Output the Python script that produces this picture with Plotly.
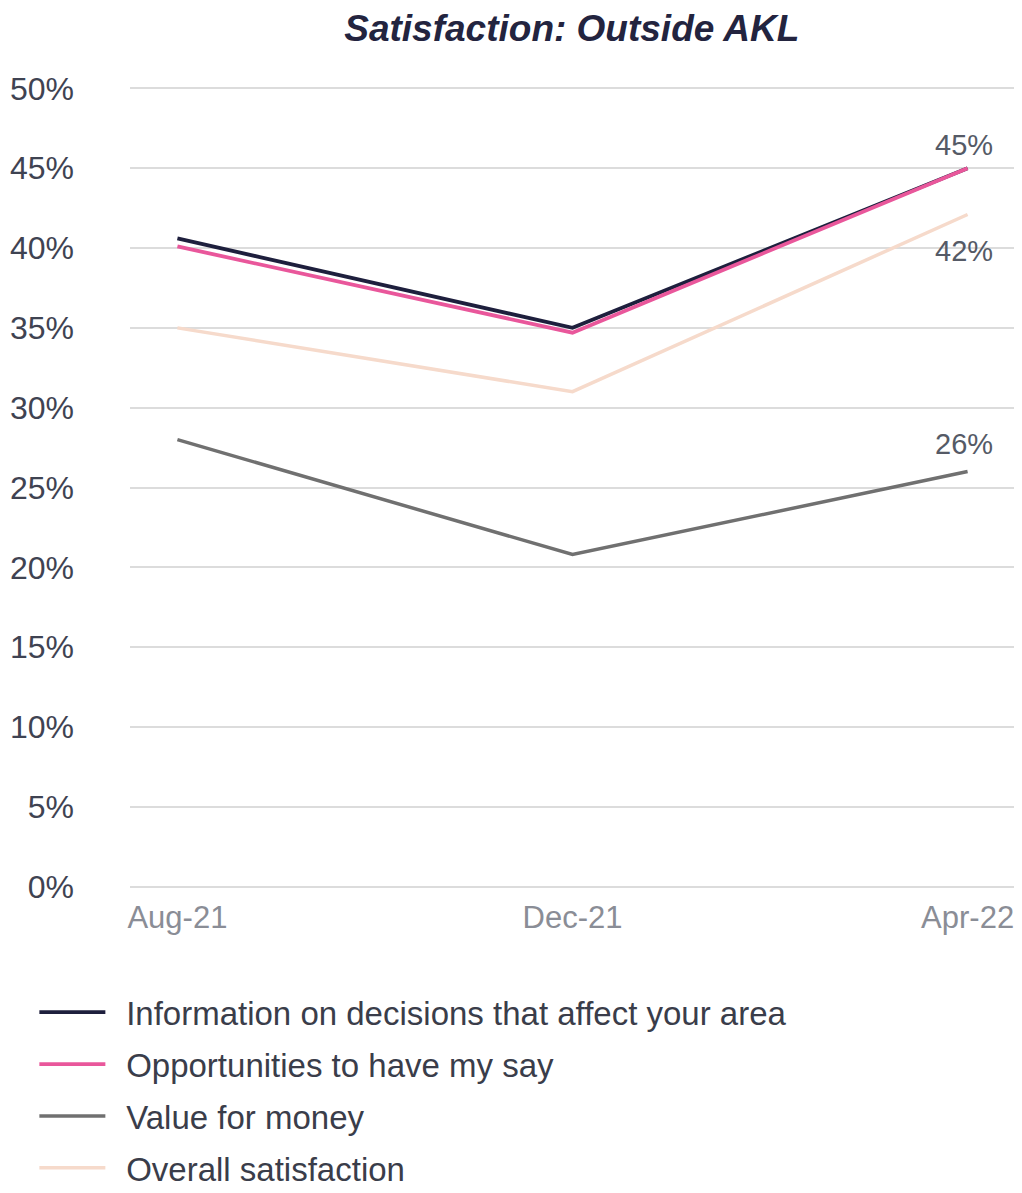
import plotly.graph_objects as go

periods = ["Aug-21", "Dec-21", "Apr-22"]
info = [40.6, 35.0, 45.0]
opportunities = [40.1, 34.7, 45.0]
value_money = [28.0, 20.8, 26.0]
overall = [35.0, 31.0, 42.1]

series_names = [
    "Information on decisions that affect your area",
    "Opportunities to have my say",
    "Value for money",
    "Overall satisfaction",
]
series_values = [info, opportunities, value_money, overall]
series_colors = ["#1e1f3d", "#e9579b", "#707070", "#f6dacb"]
series_widths = [3.8, 3.8, 3.5, 3.5]

end_labels = [("45%", 45.0, 23), ("42%", 42.1, -36), ("26%", 26.0, 28)]

yticks = list(range(0, 51, 5))
ytick_text = [f"{v}%" for v in yticks]

FONT = "Liberation Sans, Arial, sans-serif"
PAD = "\u00a0\u2009"

fig = go.Figure()
for i, (name, vals, col, w) in enumerate(zip(series_names, series_values, series_colors, series_widths)):
    fig.add_trace(go.Scatter(
        x=periods, y=vals, mode="lines", name=PAD + name,
        line=dict(color=col, width=w),
        legendgroup=f"g{i}",
    ))

for txt, v, shift in end_labels:
    fig.add_annotation(
        x=periods[-1], y=v, text=txt, showarrow=False,
        yshift=shift, xshift=-4,
        font=dict(family=FONT, size=29, color="#555a66"),
    )

fig.update_layout(
    width=1014, height=1185,
    paper_bgcolor="white", plot_bgcolor="white",
    margin=dict(l=122, r=7, t=78, b=304, autoexpand=False),
    title=dict(
        text="<b><i>Satisfaction: Outside AKL</i></b>",
        x=0.556, xanchor="center", xref="container", y=0.9835, yanchor="middle",
        font=dict(family=FONT, size=37, color="#23243f"),
    ),
    showlegend=True,
    legend=dict(
        orientation="v", xref="container", yref="container",
        x=0.026, xanchor="left", y=0.1762, yanchor="top",
        font=dict(family=FONT, size=33, color="#3a3d4a"),
        tracegroupgap=6, itemwidth=66,
        bgcolor="rgba(0,0,0,0)",
    ),
    xaxis=dict(
        type="category", range=[-0.12, 2.12],
        showgrid=False, zeroline=False, showline=False,
        ticks="", ticklabelstandoff=7, automargin=False,
        tickfont=dict(family=FONT, size=31, color="#8a8d96"),
    ),
    yaxis=dict(
        range=[-0.15, 50.15], tickvals=yticks, ticktext=ytick_text,
        showgrid=True, gridcolor="#dcdcdc", gridwidth=1.5,
        zeroline=False, showline=False, ticks="",
        ticklabelstandoff=55, automargin=False,
        tickfont=dict(family=FONT, size=32, color="#3f4352"),
    ),
)

fig.write_html("out.html")
